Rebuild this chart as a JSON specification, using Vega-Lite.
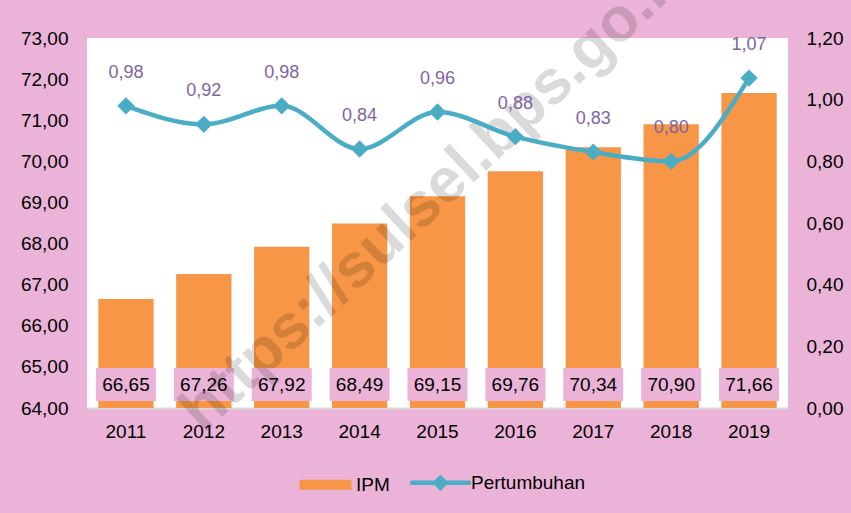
{
  "$schema": "https://vega.github.io/schema/vega-lite/v6.json",
  "width": 701,
  "height": 370,
  "autosize": {"type": "none"},
  "padding": {"left": 87, "top": 38, "right": 63, "bottom": 105},
  "background": "#EBB3D8",
  "config": {
    "locale": {"number": {"decimal": ",", "thousands": ".", "grouping": [3], "currency": ["", ""]}},
    "view": {"fill": "white", "stroke": null},
    "font": "Liberation Sans",
    "axis": {"labelFont": "Liberation Sans", "labelFontSize": 19, "labelColor": "#000000", "ticks": false, "grid": false, "domain": false}
  },
  "data": {
    "values": [
      {"year": "2011", "ipm": 66.65, "growth": 0.98},
      {"year": "2012", "ipm": 67.26, "growth": 0.92},
      {"year": "2013", "ipm": 67.92, "growth": 0.98},
      {"year": "2014", "ipm": 68.49, "growth": 0.84},
      {"year": "2015", "ipm": 69.15, "growth": 0.96},
      {"year": "2016", "ipm": 69.76, "growth": 0.88},
      {"year": "2017", "ipm": 70.34, "growth": 0.83},
      {"year": "2018", "ipm": 70.90, "growth": 0.80},
      {"year": "2019", "ipm": 71.66, "growth": 1.07}
    ]
  },
  "encoding": {
    "x": {
      "field": "year",
      "type": "nominal",
      "scale": {"paddingInner": 0.29, "paddingOuter": 0.145},
      "axis": {"title": null, "labelAngle": 0, "domain": true, "domainColor": "#D9D9D9", "domainWidth": 2, "labelPadding": 14}
    }
  },
  "layer": [
    {
      "layer": [
        {
          "mark": {"type": "bar", "color": "#F79646"},
          "encoding": {
            "y": {
              "field": "ipm",
              "type": "quantitative",
              "title": null,
              "scale": {"domain": [64, 73], "zero": false, "nice": false},
              "axis": {"title": null, "values": [64, 65, 66, 67, 68, 69, 70, 71, 72, 73], "format": ".2f", "labelPadding": 19}
            },
            "y2": {"datum": 64},
            "color": {
              "datum": "IPM",
              "scale": {"domain": ["IPM", "Pertumbuhan"], "range": ["#F79646", "#4BACC6"]},
              "legend": {
                "orient": "none",
                "legendX": 229,
                "legendY": 435,
                "direction": "horizontal",
                "title": null,
                "padding": 0,
                "labelFont": "Liberation Sans",
                "labelFontSize": 19,
                "labelColor": "#000000",
                "symbolSize": 400,
                "labelOffset": 21,
                "columnPadding": 13,
                "encode": {
                  "symbols": {
                    "update": {
                      "shape": {"signal": "datum.value === 'IPM' ? 'M-2.6,-0.5L2.6,-0.5L2.6,0.5L-2.6,0.5Z' : 'M-2.85,0L2.85,0M0,-0.5L0.5,0L0,0.5L-0.5,0Z'"},
                      "fill": {"signal": "datum.value === 'IPM' ? '#F79646' : '#4BACC6'"},
                      "stroke": {"value": "#4BACC6"},
                      "strokeWidth": {"signal": "datum.value === 'IPM' ? 0 : 4.5"},
                      "strokeCap": {"value": "round"},
                      "opacity": {"value": 1},
                      "fillOpacity": {"value": 1},
                      "strokeOpacity": {"value": 1}
                    }
                  }
                }
              }
            }
          }
        },
        {
          "mark": {"type": "bar", "color": "#EBB3D8", "size": 60},
          "encoding": {
            "y": {"datum": 64.97, "type": "quantitative", "title": null},
            "y2": {"datum": 64.17}
          }
        },
        {
          "mark": {"type": "text", "color": "#000000", "fontSize": 19, "font": "Liberation Sans", "baseline": "middle"},
          "encoding": {
            "y": {"datum": 64.56, "type": "quantitative", "title": null},
            "text": {"field": "ipm", "type": "quantitative", "format": ".2f"}
          }
        },
        {
          "data": {"values": [{"mark": "https://sulsel.bps.go.id"}]},
          "mark": {"type": "text", "font": "Liberation Sans", "fontWeight": "bold", "fontSize": 62, "angle": -43, "align": "center", "baseline": "middle", "color": "#000000", "opacity": 0.14},
          "encoding": {
            "x": {"datum": "2015"},
            "y": {"datum": 69.3, "type": "quantitative", "title": null},
            "text": {"field": "mark", "type": "nominal"}
          }
        }
      ]
    },
    {
      "layer": [
        {
          "mark": {"type": "line", "interpolate": "monotone", "strokeWidth": 4.5, "strokeCap": "round"},
          "encoding": {
            "y": {
              "field": "growth",
              "type": "quantitative",
              "title": null,
              "scale": {"domain": [0, 1.2], "nice": false},
              "axis": {"title": null, "orient": "right", "values": [0, 0.2, 0.4, 0.6, 0.8, 1.0, 1.2], "format": ".2f", "labelPadding": 18}
            },
            "color": {"datum": "Pertumbuhan"}
          }
        },
        {
          "mark": {"type": "point", "shape": "diamond", "filled": true, "size": 300, "color": "#4BACC6", "opacity": 1},
          "encoding": {
            "y": {"field": "growth", "type": "quantitative", "title": null}
          }
        },
        {
          "mark": {"type": "text", "color": "#8064A2", "fontSize": 18, "font": "Liberation Sans", "baseline": "middle", "dy": -33},
          "encoding": {
            "y": {"field": "growth", "type": "quantitative", "title": null},
            "text": {"field": "growth", "type": "quantitative", "format": ".2f"}
          }
        }
      ]
    }
  ],
  "resolve": {"scale": {"y": "independent"}}
}
